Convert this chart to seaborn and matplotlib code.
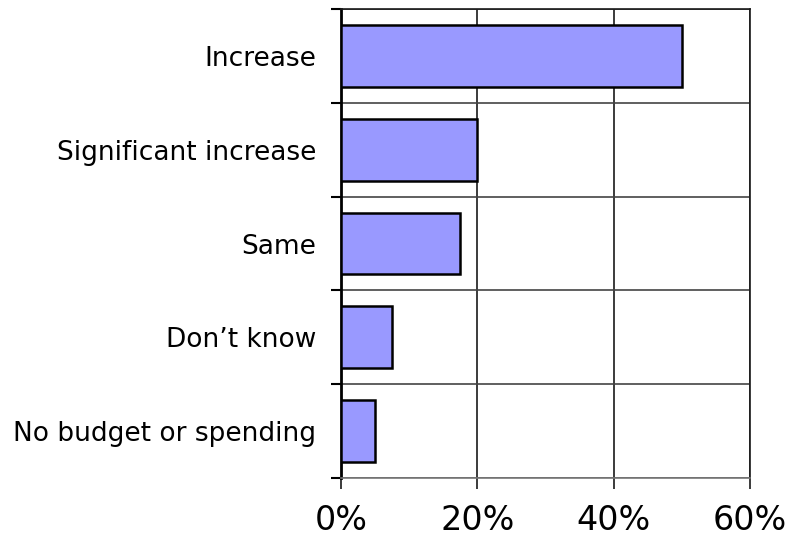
import matplotlib
matplotlib.use("Agg")
import matplotlib.pyplot as plt
import seaborn as sns
import pandas as pd
from matplotlib.ticker import FixedLocator, FuncFormatter

categories = ["Increase", "Significant increase", "Same", "Don\u2019t know", "No budget or spending"]
values = [50.0, 20.0, 17.4, 7.5, 5.0]
x_ticks = [0, 20, 40, 60]

df = pd.DataFrame({"category": categories, "value": values})

sns.set_theme(style="white")
plt.rcParams['font.family'] = ['DejaVu Sans']

fig = plt.figure(figsize=(7.96, 5.36), dpi=100)
ax = fig.add_axes([341/796, 1 - 478/536, (750 - 341)/796, (478 - 9)/536])

sns.barplot(data=df, x="value", y="category", orient="h", color="#9999FF",
            saturation=1, edgecolor="black", linewidth=1.8, width=0.66, ax=ax, zorder=3)

ax.set_xlim(0, 60)
ax.set_ylim(len(categories) - 0.5, -0.5)
ax.set_xticks(x_ticks)
ax.xaxis.set_major_formatter(FuncFormatter(lambda v, p: f"{v:.0f}%"))
ax.set_xlabel("")
ax.set_ylabel("")

# vertical gridlines
ax.grid(axis="x", which="major", color="#1a1a1a", linewidth=1.2, zorder=0)
# horizontal lines at category boundaries
ax.yaxis.set_minor_locator(FixedLocator([i - 0.5 for i in range(len(categories) + 1)]))
ax.grid(axis="y", which="minor", color="#444444", linewidth=1.2, zorder=0)
ax.grid(axis="y", which="major", visible=False)

ax.tick_params(axis="y", which="major", length=0, labelsize=19, pad=18, colors="black")
ax.tick_params(axis="y", which="minor", length=7, width=1.5, color="black", direction="out", left=True)
ax.tick_params(axis="x", which="major", length=8, width=1.2, color="#1a1a1a", direction="out",
               bottom=True, labelsize=24, pad=11, labelcolor="black")

for side in ["top", "right"]:
    ax.spines[side].set_visible(True)
    ax.spines[side].set_color("#1a1a1a")
    ax.spines[side].set_linewidth(1.2)
ax.spines["left"].set_color("black")
ax.spines["left"].set_linewidth(2)
ax.spines["bottom"].set_color("#777777")
ax.spines["bottom"].set_linewidth(1.2)

fig.savefig("out.png", dpi=100)
